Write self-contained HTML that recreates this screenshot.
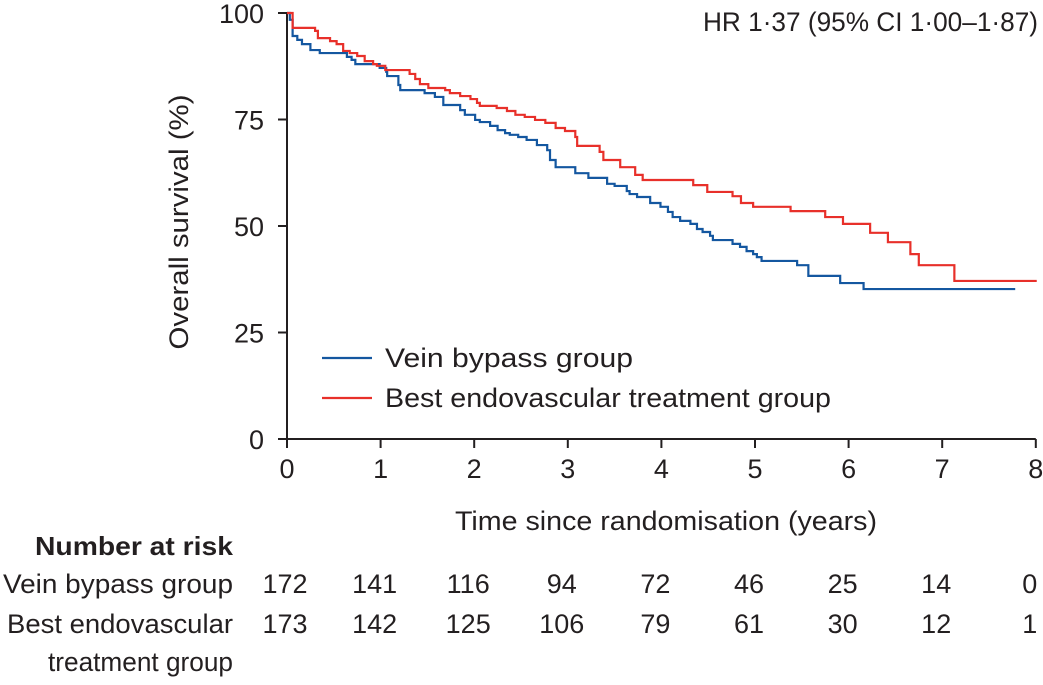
<!DOCTYPE html>
<html><head><meta charset="utf-8"><style>
html,body{margin:0;padding:0;background:#fff}
svg{display:block;font-family:"Liberation Sans",sans-serif;fill:#231f20}
</style></head><body>
<svg id="chart" width="1043" height="685" viewBox="0 0 1043 685" xmlns="http://www.w3.org/2000/svg">
<g id="axes"></g><g id="series"></g><g id="labels"></g>
</svg>
<script>
const xTicks=[0,1,2,3,4,5,6,7,8];
const yTicks=[0,25,50,75,100];
const veinT=[0,0.03,0.06,0.11,0.16,0.25,0.35,0.64,0.69,0.73,0.99,1.06,1.07,1.19,1.21,1.47,1.58,1.67,1.85,1.90,2.01,2.06,2.17,2.25,2.33,2.38,2.47,2.56,2.67,2.78,2.81,2.87,3.08,3.22,3.42,3.50,3.63,3.66,3.74,3.88,3.99,4.07,4.12,4.20,4.31,4.38,4.44,4.52,4.55,4.76,4.84,4.91,4.98,5.02,5.07,5.45,5.57,5.91,6.16];
const veinS=[100,98.4,94.6,93.7,92.7,91.3,90.6,89.7,89.0,88.0,87.1,86.2,85.2,83.1,81.9,81.2,80.3,78.4,77.2,76.1,74.9,74.4,73.5,72.5,71.8,71.4,70.9,70.2,69.0,67.8,65.5,63.8,62.4,61.3,59.9,59.4,58.2,57.5,56.8,55.4,54.5,53.3,52.1,51.2,50.5,49.3,48.6,47.7,46.7,45.8,45.1,44.1,43.4,42.7,41.8,40.8,38.3,36.6,35.2];
const veinEnd=7.78;
const endoT=[0,0.06,0.30,0.33,0.46,0.53,0.60,0.67,0.75,0.83,0.92,0.96,1.05,1.31,1.37,1.42,1.51,1.69,1.74,1.85,1.96,2.03,2.06,2.24,2.35,2.44,2.54,2.65,2.76,2.87,2.97,3.08,3.10,3.34,3.38,3.56,3.72,3.80,4.34,4.49,4.76,4.85,4.98,5.38,5.75,5.94,6.23,6.42,6.66,6.75,7.13];
const endoS=[100,96.5,95.8,94.1,93.4,92.7,91.1,90.6,89.9,88.7,88.0,87.6,86.6,85.7,84.5,83.3,82.4,81.9,81.2,80.5,79.8,78.9,78.2,77.7,77.0,76.1,75.6,74.9,74.2,73.0,72.3,70.9,68.8,67.4,65.5,63.8,62.0,60.8,59.6,58.0,57.0,55.4,54.5,53.5,52.1,50.5,48.4,46.2,43.4,40.8,37.1];
const endoEnd=8.01;
const riskVein=["172","141","116","94","72","46","25","14","0"];
const riskEndo=["173","142","125","106","79","61","30","12","1"];

const X=t=>287+t*93.6, Y=s=>439-s*4.26;
const NS="http://www.w3.org/2000/svg";
function mk(tag,attrs,parent,txt){const e=document.createElementNS(NS,tag);for(const k in attrs)e.setAttribute(k,attrs[k]);if(txt!==undefined)e.textContent=txt;parent.appendChild(e);return e;}
const axes=document.getElementById('axes'),series=document.getElementById('series'),labels=document.getElementById('labels');

let a=mk('path',{d:`M${X(0)} ${Y(100)}V${Y(0)}H${X(8)}`,fill:'none',stroke:'#231f20','stroke-width':2},axes);


yTicks.forEach(v=>{
 let t=mk('line',{x1:X(0)-9,x2:X(0),y1:Y(v),y2:Y(v),stroke:'#231f20','stroke-width':2},axes);
 
 
 let l=mk('text',{x:264,y:Y(v)+10,'text-anchor':'end','font-size':27},labels,String(v));
 
 
});
xTicks.forEach((v,i)=>{
 let t=mk('line',{x1:X(v),x2:X(v),y1:Y(0),y2:Y(0)+9,stroke:'#231f20','stroke-width':2},axes);
 
 
 let l=mk('text',{x:X(v),y:478,'text-anchor':'middle','font-size':27},labels,String(v));
 
 
 let r1=mk('text',{x:i==0?X(v)-2:X(v)-6,y:593,'text-anchor':'middle','font-size':27},labels,riskVein[i]);
 
 
 let r2=mk('text',{x:i==0?X(v)-2:X(v)-6,y:633,'text-anchor':'middle','font-size':27},labels,riskEndo[i]);
 
 
});
function stepPath(T,S,end){let d=`M${X(T[0])} ${Y(S[0])}`;for(let i=1;i<T.length;i++){d+=`H${X(T[i])}V${Y(S[i])}`;}d+=`H${X(end)}`;return d;}
let pv=mk('path',{d:stepPath(veinT,veinS,veinEnd),fill:'none',stroke:'#1457a0','stroke-width':2.2},series);


let pe=mk('path',{d:stepPath(endoT,endoS,endoEnd),fill:'none',stroke:'#e8302a','stroke-width':2.2},series);


</script>
<script>
(function(){
const NS="http://www.w3.org/2000/svg",svg=document.getElementById('chart');
function t(x,y,s,o,name){const e=document.createElementNS(NS,'text');e.setAttribute('x',x);e.setAttribute('y',y);e.setAttribute('font-size',o.fs||27);if(o.anchor)e.setAttribute('text-anchor',o.anchor);if(o.bold)e.setAttribute('font-weight','bold');if(o.rot)e.setAttribute('transform',o.rot);if(o.len){e.setAttribute('textLength',o.len);e.setAttribute('lengthAdjust','spacingAndGlyphs');}e.textContent=s;


svg.appendChild(e);}
function l(y,c,name){const e=document.createElementNS(NS,'line');e.setAttribute('x1',322);e.setAttribute('x2',372);e.setAttribute('y1',y);e.setAttribute('y2',y);e.setAttribute('stroke',c);e.setAttribute('stroke-width',2.2);


svg.appendChild(e);}
t(1038,31,'HR 1·37 (95% CI 1·00–1·87)',{anchor:'end',fs:27,len:335},'hazard-ratio-note');
t(188,222,'Overall survival (%)',{anchor:'middle',fs:27,len:255,rot:'rotate(-90 188 222)'},'y-axis-title');
t(666,530,'Time since randomisation (years)',{anchor:'middle',fs:27,len:422},'x-axis-title');
l(358,'#1457a0','legend-vein-line');
t(385,367,'Vein bypass group',{fs:27,len:248},'legend-vein-label');
l(398,'#e8302a','legend-endo-line');
t(385,407,'Best endovascular treatment group',{fs:27,len:446},'legend-endo-label');
t(233,555,'Number at risk',{anchor:'end',bold:true,fs:26,len:198},'risk-table-title');
t(233,593,'Vein bypass group',{anchor:'end',fs:27,len:230},'risk-row-vein-label');
t(233,633,'Best endovascular',{anchor:'end',fs:27,len:226},'risk-row-endo-label');
t(233,671,'treatment group',{anchor:'end',fs:27,len:185},'risk-row-endo-label-2');
})();
</script>
</body></html>
